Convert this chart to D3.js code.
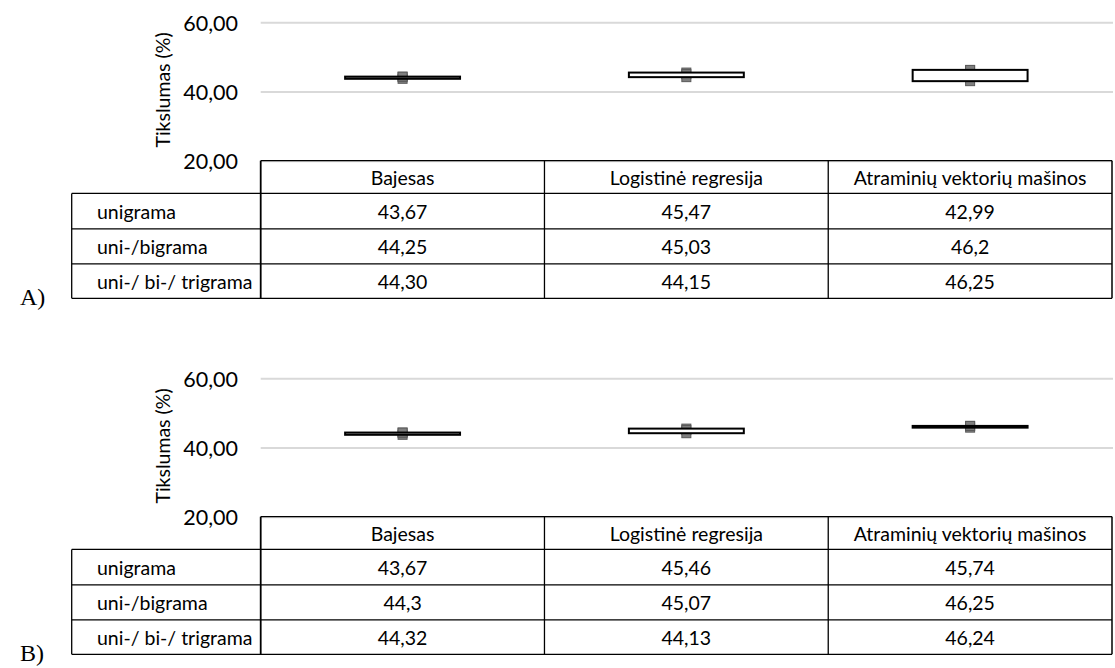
<!DOCTYPE html>
<html><head><meta charset="utf-8">
<script src="https://cdn.jsdelivr.net/npm/d3@7"></script>
<style>body{margin:0;background:#fff}svg{display:block}</style>
</head><body>
<svg id="c" width="1115" height="668"></svg>
<script>
const categories = ["Bajesas", "Logistinė regresija", "Atraminių vektorių mašinos"];
const seriesNames = ["unigrama", "uni-/bigrama", "uni-/ bi-/ trigrama"];
const yTicks = [20, 40, 60];
const panelLabels = ["A)", "B)"];

// panel A values (rows = series, cols = categories)
const uniA = [43.67, 45.47, 42.99];
const biA = [44.25, 45.03, 46.2];
const triA = [44.30, 44.15, 46.25];
const uniAText = ["43,67", "45,47", "42,99"];
const biAText = ["44,25", "45,03", "46,2"];
const triAText = ["44,30", "44,15", "46,25"];

// panel B values
const uniB = [43.67, 45.46, 45.74];
const biB = [44.3, 45.07, 46.25];
const triB = [44.32, 44.13, 46.24];
const uniBText = ["43,67", "45,46", "45,74"];
const biBText = ["44,3", "45,07", "46,25"];
const triBText = ["44,32", "44,13", "46,24"];

const panels = [
  {label: panelLabels[0], series: [uniA, biA, triA], texts: [uniAText, biAText, triAText], dy: 0},
  {label: panelLabels[1], series: [uniB, biB, triB], texts: [uniBText, biBText, triBText], dy: 356}
];

const svg = d3.select("#c");
const FONT = "Lato, 'Open Sans', sans-serif";
const plotLeft = 260.7, plotRight = 1112, tableLeft = 71.7;
const rowEdges = [160.7, 193.4, 228.8, 263.9, 298.3];

panels.forEach(p => {
  const g = svg.append("g").attr("transform", `translate(0,${p.dy})`);
  const x = d3.scaleBand().domain(categories).range([plotLeft, plotRight]);
  const y = d3.scaleLinear().domain([20, 60]).range([160.7, 22.3]);

  // gridlines
  const grid = g.append("g").attr("transform", `translate(${plotLeft},0)`)
    .call(d3.axisLeft(y).tickValues(yTicks).tickSize(-(plotRight - plotLeft + 1)).tickFormat(""));
  grid.select(".domain").remove();
  grid.selectAll(".tick line").attr("stroke", "#d9d9d9").attr("stroke-width", 2);

  // tick labels
  const ax = g.append("g").attr("transform", `translate(238,0)`)
    .call(d3.axisLeft(y).tickValues(yTicks).tickSize(0).tickPadding(0)
      .tickFormat(d => d3.format(".2f")(d).replace(".", ",")));
  ax.select(".domain").remove();
  ax.selectAll("text").attr("font-family", FONT).attr("font-size", 21.5).attr("fill", "#000")
    .attr("dy", "0.36em");

  // axis title
  g.append("text").attr("transform", `translate(162,90) rotate(-90)`)
    .attr("text-anchor", "middle").attr("dominant-baseline", "central")
    .attr("font-family", FONT).attr("font-size", 19.5).attr("fill", "#000")
    .text("Tikslumas (%)");

  // markers (beneath the up/down bars)
  const msize = 9;
  p.series.forEach(s => {
    g.append("g").selectAll("rect").data(categories).join("rect")
      .attr("x", (c) => x(c) + x.bandwidth() / 2 - msize / 2)
      .attr("y", (c, i) => y(s[i]) - msize / 2)
      .attr("width", msize).attr("height", msize)
      .attr("fill", "#7f7f7f").attr("stroke", "#595959").attr("stroke-width", 1);
  });

  // up/down bars between first and last series
  const bw = x.bandwidth() * 0.405;
  const first = p.series[0], last = p.series[p.series.length - 1];
  g.append("g").selectAll("rect").data(categories).join("rect")
    .attr("x", c => x(c) + x.bandwidth() / 2 - bw / 2)
    .attr("y", (c, i) => y(Math.max(first[i], last[i])))
    .attr("width", bw)
    .attr("height", (c, i) => Math.abs(y(first[i]) - y(last[i])))
    .attr("fill", "#fff").attr("stroke", "#000").attr("stroke-width", 2);

  // data table
  const t = g.append("g");
  const line = (x1, y1, x2, y2, w) => t.append("line").attr("x1", x1).attr("y1", y1)
    .attr("x2", x2).attr("y2", y2).attr("stroke", "#000").attr("stroke-width", w || 1.3);
  line(plotLeft, rowEdges[0], plotRight, rowEdges[0]);
  for (let r = 1; r < rowEdges.length; r++) line(tableLeft, rowEdges[r], plotRight, rowEdges[r]);
  line(tableLeft, rowEdges[1], tableLeft, rowEdges[4]);
  line(plotLeft, rowEdges[0], plotLeft, rowEdges[4], 1.8);
  categories.forEach((c, i) => {
    const xr = x(c) + x.bandwidth();
    line(xr, rowEdges[0], xr, rowEdges[4], i === categories.length - 1 ? 1.5 : 1.3);
  });
  // header
  t.append("g").selectAll("text").data(categories).join("text")
    .attr("x", c => x(c) + x.bandwidth() / 2)
    .attr("y", (rowEdges[0] + rowEdges[1]) / 2)
    .attr("text-anchor", "middle").attr("dominant-baseline", "central")
    .attr("font-family", FONT).attr("font-size", 19.5).attr("fill", "#000")
    .text(c => c);
  seriesNames.forEach((sn, r) => {
    const cy = (rowEdges[r + 1] + rowEdges[r + 2]) / 2 + 0.5;
    t.append("text").attr("x", 97).attr("y", cy).attr("dominant-baseline", "central")
      .attr("font-family", FONT).attr("font-size", 19.5).attr("fill", "#000").text(sn);
    t.append("g").selectAll("text").data(categories).join("text")
      .attr("x", c => x(c) + x.bandwidth() / 2).attr("y", cy)
      .attr("text-anchor", "middle").attr("dominant-baseline", "central")
      .attr("font-family", FONT).attr("font-size", 19.5).attr("fill", "#000")
      .text((c, i) => p.texts[r][i]);
  });

  // panel label
  g.append("text").attr("x", 20).attr("y", 305)
    .attr("font-family", "'Liberation Serif', 'Times New Roman', serif").attr("font-size", 24)
    .attr("fill", "#000").text(p.label);
});
</script>
</body></html>
